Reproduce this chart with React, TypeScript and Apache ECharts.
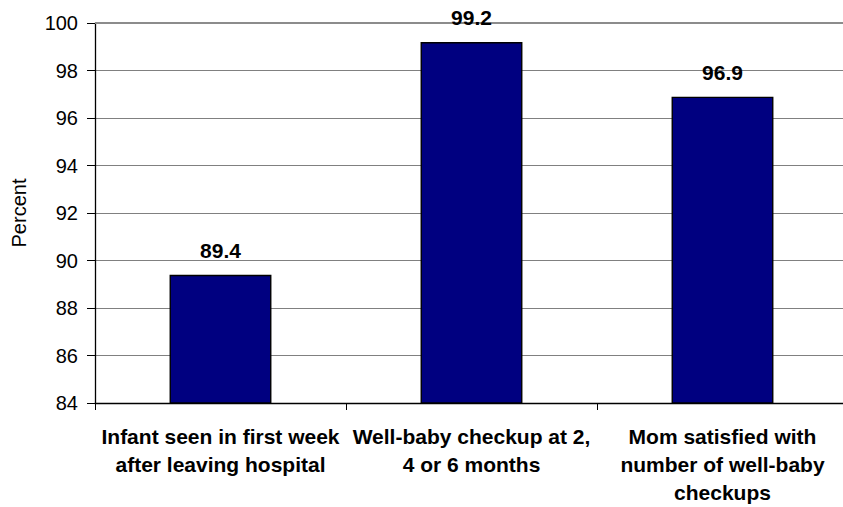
import React, { useEffect, useRef } from "react";
import * as echarts from "echarts";

const categories = [
  "Infant seen in first week\nafter leaving hospital",
  "Well-baby checkup at 2,\n4 or 6 months",
  "Mom satisfied with\nnumber of well-baby\ncheckups",
];
const percentValues = [89.4, 99.2, 96.9];
const yMin = 84;
const yMax = 100;
const yInterval = 2;
const yAxisTitle = "Percent";

const FONT = '"Liberation Sans", Arial, sans-serif';

export default function App() {
  const ref = useRef<HTMLDivElement>(null);
  useEffect(() => {
    if (!ref.current) return;
    const chart = echarts.init(ref.current, null, { renderer: "svg" });
    chart.setOption({
      animation: false,
      backgroundColor: "#ffffff",
      textStyle: { fontFamily: FONT },
      grid: {
        left: 95,
        top: 23,
        bottom: 104,
        right: -5,
        containLabel: false,
        outerBoundsMode: "none",
      },
      xAxis: {
        type: "category",
        data: categories,
        boundaryGap: true,
        axisLine: { show: true, lineStyle: { color: "#000000", width: 1.3 } },
        axisTick: { show: true, length: 7, lineStyle: { color: "#000000", width: 1 } },
        axisLabel: {
          color: "#000000",
          fontFamily: FONT,
          fontWeight: "bold",
          fontSize: 21,
          lineHeight: 28,
          margin: 19,
          align: "center",
          interval: 0,
        },
        splitLine: { show: false },
      },
      yAxis: {
        type: "value",
        min: yMin,
        max: yMax,
        interval: yInterval,
        name: yAxisTitle,
        nameLocation: "middle",
        nameGap: 66,
        nameRotate: 90,
        nameTextStyle: { color: "#000000", fontFamily: FONT, fontSize: 20 },
        axisLine: { show: true, lineStyle: { color: "#000000", width: 1.3 } },
        axisTick: { show: true, length: 8, inside: false, lineStyle: { color: "#000000", width: 1 } },
        axisLabel: { color: "#000000", fontFamily: FONT, fontSize: 20, margin: 17 },
        splitLine: { show: true, lineStyle: { color: "#808080", width: 1 } },
      },
      series: [
        {
          type: "bar",
          data: percentValues,
          barWidth: "40.6%",
          itemStyle: { color: "#000080", borderColor: "#000000", borderWidth: 1.4 },
          label: {
            show: true,
            position: "top",
            distance: 14,
            color: "#000000",
            fontFamily: FONT,
            fontWeight: "bold",
            fontSize: 21,
          },
          markLine: {
            silent: true,
            symbol: "none",
            label: { show: false },
            lineStyle: { color: "#8c8c8c", width: 2, type: "solid" },
            data: [{ yAxis: yMax }],
            z: 1,
          },
        },
      ],
    });
    return () => chart.dispose();
  }, []);
  return (
    <div
      ref={ref}
      style={{ position: "fixed", left: 0, top: 0, width: 843, height: 507, background: "#fff" }}
    />
  );
}
